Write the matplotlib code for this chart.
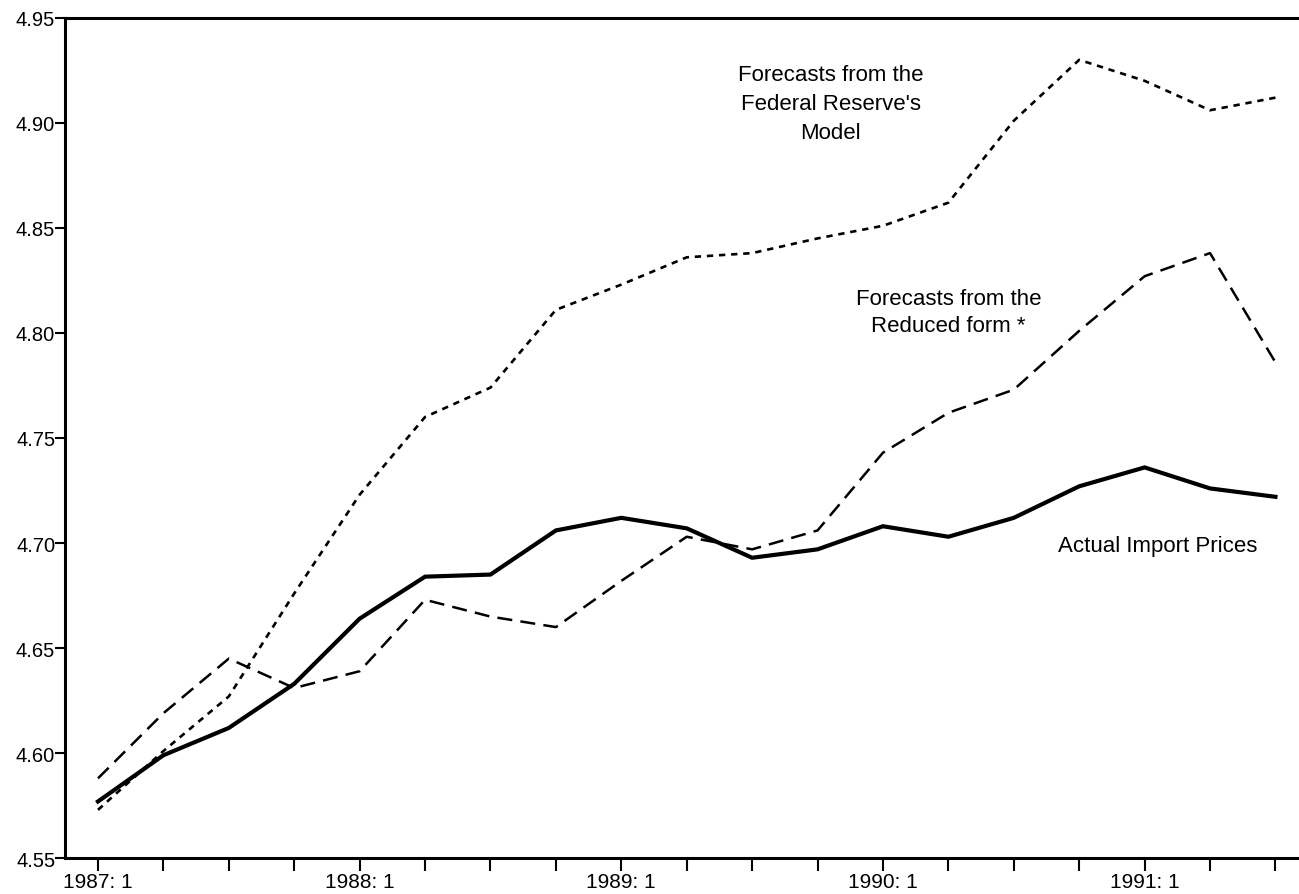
import matplotlib
matplotlib.use("Agg")
import matplotlib.pyplot as plt

# quarterly observations 1987:1 .. 1991:3
quarters = ["1987: 1", "1987: 2", "1987: 3", "1987: 4",
            "1988: 1", "1988: 2", "1988: 3", "1988: 4",
            "1989: 1", "1989: 2", "1989: 3", "1989: 4",
            "1990: 1", "1990: 2", "1990: 3", "1990: 4",
            "1991: 1", "1991: 2", "1991: 3"]

actual = [4.577, 4.599, 4.612, 4.633, 4.664, 4.684, 4.685, 4.706, 4.712, 4.707,
          4.693, 4.697, 4.708, 4.703, 4.712, 4.727, 4.736, 4.726, 4.722]

reduced_form = [4.588, 4.619, 4.645, 4.631, 4.639, 4.673, 4.665, 4.660, 4.682, 4.703,
                4.697, 4.706, 4.743, 4.762, 4.773, 4.801, 4.827, 4.838, 4.786]

fed_model = [4.573, 4.601, 4.627, 4.676, 4.723, 4.760, 4.774, 4.811, 4.823, 4.836,
             4.838, 4.845, 4.851, 4.862, 4.901, 4.930, 4.920, 4.906, 4.912]

y_ticks = [4.55, 4.60, 4.65, 4.70, 4.75, 4.80, 4.85, 4.90, 4.95]


def main():
    plt.rcParams['font.family'] = ['Liberation Sans', 'DejaVu Sans']
    fig = plt.figure(figsize=(12.99, 8.95), dpi=100)
    ax = fig.add_axes([0.050, 0.040, 0.950, 0.939])

    x = list(range(len(quarters)))
    ax.plot(x, actual, color='black', lw=3.0, solid_joinstyle='miter')
    ax.plot(x, reduced_form, color='black', lw=1.8, dashes=(6, 3.3))
    ax.plot(x, fed_model, color='black', lw=1.9, dashes=(2.4, 2.2))

    ax.set_xlim(-0.505, 18.36)
    ax.set_ylim(4.55, 4.95)

    ax.set_xticks(x)
    ax.set_xticklabels([q if q.endswith(": 1") else "" for q in quarters])
    ax.set_yticks(y_ticks)
    ax.set_yticklabels(["%.2f" % v for v in y_ticks])
    ax.tick_params(axis='x', direction='out', length=9, width=1.5, labelsize=15, pad=1)
    ax.tick_params(axis='y', direction='out', length=7, width=1.5, labelsize=14.5, pad=0)

    for side in ['left', 'bottom', 'top']:
        ax.spines[side].set_linewidth(2.2)
    ax.spines['right'].set_visible(False)

    ax.text(11.2, 4.909, "Forecasts from the\nFederal Reserve's\nModel",
            ha='center', va='center', fontsize=16, linespacing=1.5)
    ax.text(13.0, 4.810, "Forecasts from the\nReduced form *",
            ha='center', va='center', fontsize=16, linespacing=1.4)
    ax.text(16.2, 4.699, "Actual Import Prices",
            ha='center', va='center', fontsize=16)

    fig.savefig("out.png", dpi=100)


if __name__ == "__main__":
    main()
